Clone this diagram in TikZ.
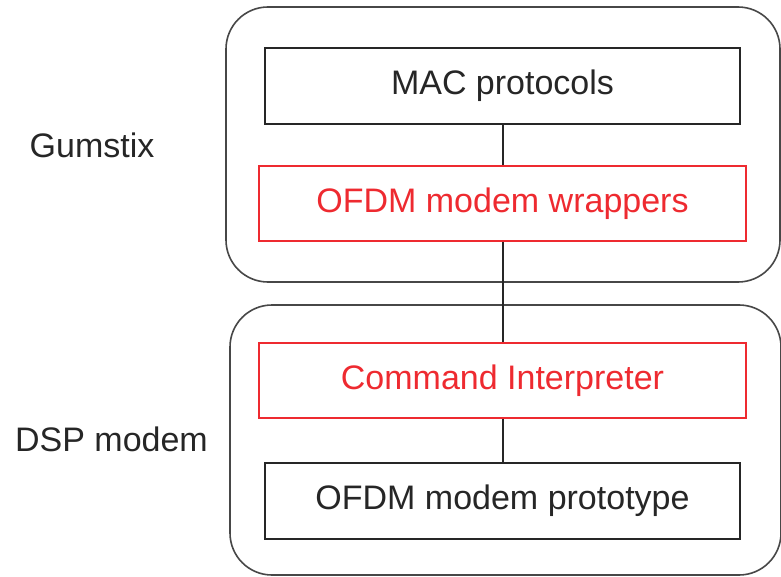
\documentclass[tikz,border=0pt]{standalone}
\usepackage{fontspec}
\setmainfont{Liberation Sans}
\usepackage{xcolor}
\definecolor{ink}{HTML}{262626}
\definecolor{hot}{HTML}{EE2A30}

\begin{document}
\begin{tikzpicture}[
  x=1pt, y=-1pt,  layer/.style={draw=ink,text=ink,line width=1.8pt,minimum width=475pt,minimum height=76pt,font=\fontsize{34}{40}\selectfont},  hlayer/.style={draw=hot,text=hot,line width=1.6pt,minimum width=487pt,minimum height=75pt,font=\fontsize{34}{40}\selectfont},  group/.style={draw=ink!85,line width=1.6pt,rounded corners=42pt},  side/.style={text=ink,font=\fontsize{34}{40}\selectfont}
]
  \useasboundingbox (0,0) rectangle (781,577);
  \node[group,minimum width=554pt,minimum height=275pt] (gum) at (503,144.5) {};
  \node[group,minimum width=551pt,minimum height=270pt] (dsp) at (505.5,440) {};
  \node[layer] (mac) at (502.5,86) {MAC protocols};
  \node[hlayer] (wrap) at (502.5,203.5) {OFDM modem wrappers};
  \node[hlayer] (cmd) at (502.5,380.5) {Command Interpreter};
  \node[layer] (proto) at (502.5,501) {OFDM modem prototype};
  \node[side] (lgum) at (92,145) {Gumstix};
  \node[side] (ldsp) at (111.5,439) {DSP modem};
  \draw[ink,line width=2pt] (mac) -- (wrap);
  \draw[ink,line width=2pt] (wrap) -- (cmd);
  \draw[ink,line width=2pt] (cmd) -- (proto);
\end{tikzpicture}
\end{document}
